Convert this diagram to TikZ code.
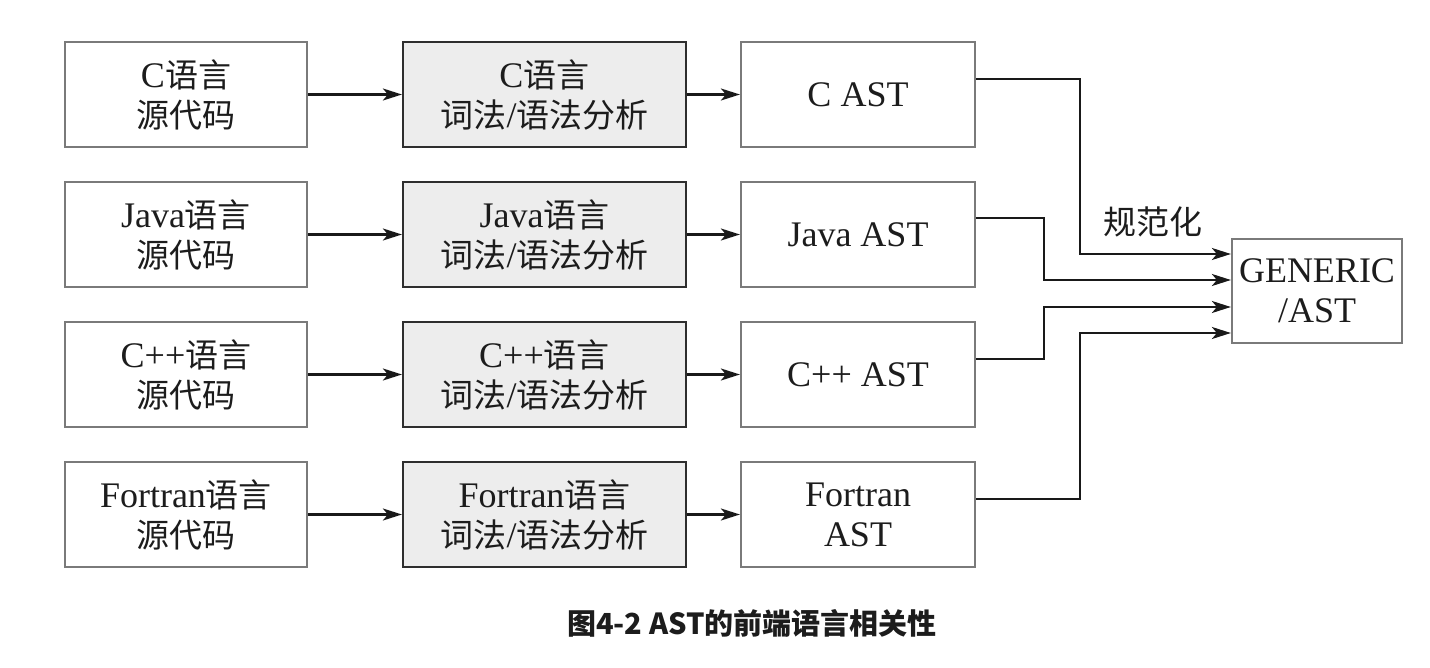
\documentclass[tikz,border=0pt]{standalone}
\usepackage{fontspec}
\setmainfont{Liberation Serif}
\newfontfamily\cjk{Noto Sans CJK SC}
\usetikzlibrary{arrows.meta}
\newcommand{\zh}[1]{{\cjk\fontsize{33}{40}\selectfont #1}}
\definecolor{boxgray}{HTML}{7A7A7A}
\definecolor{boxdark}{HTML}{2E2E2E}
\definecolor{boxfill}{HTML}{EDEDED}
\definecolor{inkc}{HTML}{1C1C1C}
\begin{document}
\begin{tikzpicture}[x=1pt,y=-1pt,
  box/.style={line width=2.2pt, minimum height=105pt, inner sep=0pt, align=center,
    font=\fontsize{36}{40}\selectfont, text=inkc},
  srcbox/.style={box, draw=boxgray, minimum width=242pt},
  anabox/.style={box, draw=boxdark, fill=boxfill, minimum width=283pt},
  astbox/.style={box, draw=boxgray, minimum width=234pt},
  arr/.style={-{Stealth[length=19pt,width=12pt,inset=5pt]}, line width=2.2pt, draw=black!90}]
\useasboundingbox (0,0) rectangle (1430,668);

% row 1
\node[srcbox] (s1) at (186,94.5) {C\zh{语言}\\\zh{源代码}};
\node[anabox] (a1) at (544.5,94.5) {C\zh{语言}\\\zh{词法}/\zh{语法分析}};
\node[astbox] (t1) at (858,94.5) {C AST};
% row 2
\node[srcbox] (s2) at (186,234.5) {Java\zh{语言}\\\zh{源代码}};
\node[anabox] (a2) at (544.5,234.5) {Java\zh{语言}\\\zh{词法}/\zh{语法分析}};
\node[astbox] (t2) at (858,234.5) {Java AST};
% row 3
\node[srcbox] (s3) at (186,374.5) {C++\zh{语言}\\\zh{源代码}};
\node[anabox] (a3) at (544.5,374.5) {C++\zh{语言}\\\zh{词法}/\zh{语法分析}};
\node[astbox] (t3) at (858,374.5) {C++ AST};
% row 4
\node[srcbox] (s4) at (186,514.5) {Fortran\zh{语言}\\\zh{源代码}};
\node[anabox] (a4) at (544.5,514.5) {Fortran\zh{语言}\\\zh{词法}/\zh{语法分析}};
\node[astbox] (t4) at (858,514.5) {Fortran\\AST};

% generic
\node[box, draw=boxgray, minimum width=170pt, minimum height=104pt] (g) at (1317,291) {GENERIC\\/AST};
\coordinate (g1) at ([yshift=37pt]g.west);
\coordinate (g2) at ([yshift=11pt]g.west);
\coordinate (g3) at ([yshift=-16pt]g.west);
\coordinate (g4) at ([yshift=-42pt]g.west);

\node[text=inkc] (lbl) at (1153,222) {\zh{规范化}};

% arrows
\foreach \i in {1,2,3,4}{
  \draw[arr] (s\i) -- (a\i);
  \draw[arr] (a\i) -- (t\i);
}
\draw[arr] ([yshift=15.5pt]t1.east) -- ++(104,0) |- (g1);
\draw[arr] ([yshift=16.5pt]t2.east) -- ++(68,0) |- (g2);
\draw[arr] ([yshift=15.5pt]t3.east) -- ++(68,0) |- (g3);
\draw[arr] ([yshift=15.5pt]t4.east) -- ++(104,0) |- (g4);

% caption
\node[text=inkc] (cap) at (752,623) {\cjk\bfseries\fontsize{29}{32}\selectfont 图4-2 AST的前端语言相关性};
\end{tikzpicture}
\end{document}
